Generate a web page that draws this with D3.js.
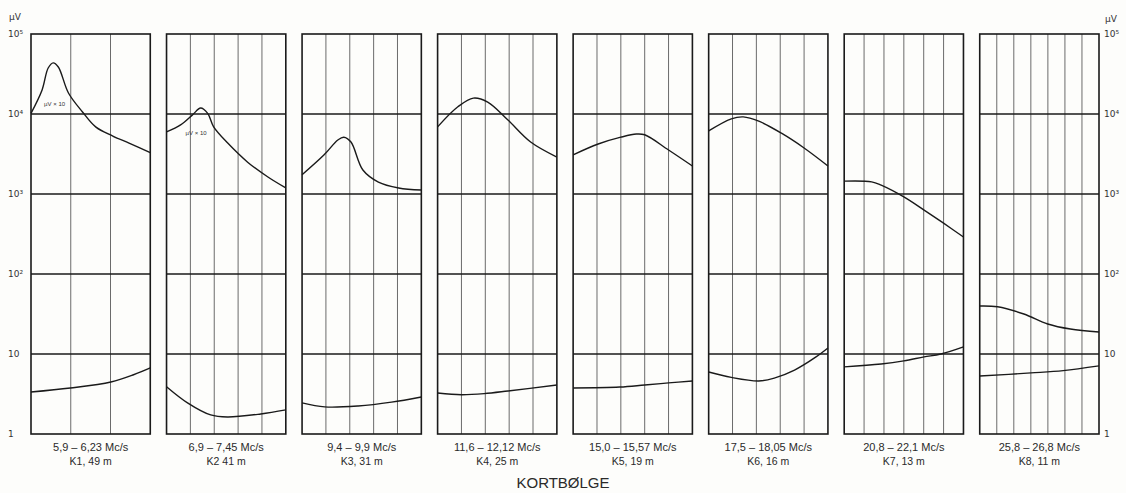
<!DOCTYPE html>
<html><head><meta charset="utf-8">
<script src="https://cdn.jsdelivr.net/npm/d3@7"></script>
<style>
body{margin:0;background:#fdfdfb;}
svg{display:block;}
</style></head>
<body>
<svg id="c" width="1126" height="493"></svg>
<script>
// ---- data ----
const bands = ["K1","K2","K3","K4","K5","K6","K7","K8"];
const freqLabels = ["5,9 – 6,23 Mc/s","6,9 – 7,45 Mc/s","9,4 – 9,9 Mc/s","11,6 – 12,12 Mc/s","15,0 – 15,57 Mc/s","17,5 – 18,05 Mc/s","20,8 – 22,1 Mc/s","25,8 – 26,8 Mc/s"];
const bandLabels = ["K1, 49 m","K2  41 m","K3, 31 m","K4, 25 m","K5, 19 m","K6, 16 m","K7, 13 m","K8, 11 m"];
const divisions = [3,5,5,5,5,5,6,7];
const yTicks = [1,10,100,1000,10000,100000];
const yTickLabels = ["1","10","10²","10³","10⁴","10⁵"];
const gridValues = [10,100,1000,10000];

// upper curves: positions (fraction of band) and values (µV)
const upperPos = [
  [0,0.093,0.144,0.186,0.229,0.314,0.432,0.542,0.686,0.822,1],
  [0,0.118,0.218,0.286,0.345,0.395,0.513,0.68,0.85,1],
  [0,0.185,0.30,0.35,0.41,0.51,0.64,0.81,1],
  [0,0.17,0.30,0.42,0.59,0.78,1],
  [0,0.21,0.40,0.53,0.60,0.80,1],
  [0,0.19,0.29,0.42,0.61,0.80,1],
  [0,0.23,0.31,0.50,0.67,0.83,1],
  [0,0.15,0.37,0.57,0.76,1]
];
const upperVal = [
  [10200,20000,37600,43600,38700,18300,10600,6900,5300,4330,3300],
  [5960,7300,9750,11900,10200,6900,4330,2500,1630,1190],
  [1740,3090,4730,5130,4470,1995,1410,1190,1120],
  [6900,12300,15800,14100,8400,4470,2900],
  [3090,4220,5130,5620,5500,3550,2240],
  [6150,8700,9200,8130,5750,3760,2240],
  [1450,1420,1290,920,630,435,290],
  [39.8,38.9,31.6,23.7,20.5,18.8]
];
const lowerPos = [
  [0,0.33,0.67,0.86,1],
  [0,0.176,0.37,0.51,0.79,1],
  [0,0.19,0.47,0.75,1],
  [0,0.2,0.39,0.59,1],
  [0,0.39,0.6,0.8,1],
  [0,0.19,0.42,0.55,0.72,0.9,1],
  [0,0.31,0.50,0.67,0.81,1],
  [0,0.43,0.7,1]
];
const lowerVal = [
  [3.35,3.76,4.47,5.5,6.7],
  [3.9,2.45,1.73,1.63,1.78,2.0],
  [2.45,2.18,2.24,2.5,2.9],
  [3.25,3.1,3.2,3.45,4.1],
  [3.76,3.86,4.1,4.35,4.6],
  [5.96,5.1,4.6,5.0,6.3,9.2,11.9],
  [6.9,7.5,8.2,9.2,10,12.3],
  [5.3,5.8,6.2,7.1]
];
const scaleNotes = ["µV × 10","µV × 10"];
const notePos = [0.11, 0.16];
const noteVal = [13300, 5770];
const title = "KORTBØLGE";

// ---- drawing ----
const svg = d3.select("#c");
const y = d3.scaleLog().domain([1,100000]).range([434,34]);
const band = d3.scaleBand().domain(bands).range([31,1099]).paddingInner(0.12).paddingOuter(0);
const ink = "#1a1a1a";

bands.forEach((b,i)=>{
  const x0 = band(b), w = band.bandwidth();
  const x = d3.scaleLinear().domain([0,1]).range([x0, x0+w]);
  const g = svg.append("g");
  // vertical grid
  const vt = d3.range(1, divisions[i]).map(k=>k/divisions[i]);
  g.selectAll(".v").data(vt).join("line")
    .attr("x1",d=>x(d)).attr("x2",d=>x(d)).attr("y1",y(100000)).attr("y2",y(1))
    .attr("stroke","#6b6b6b").attr("stroke-width",1);
  // horizontal grid
  g.selectAll(".h").data(gridValues).join("line")
    .attr("x1",x(0)).attr("x2",x(1)).attr("y1",d=>y(d)).attr("y2",d=>y(d))
    .attr("stroke",ink).attr("stroke-width",1.3);
  // frame
  g.append("rect").attr("x",x(0)).attr("y",y(100000)).attr("width",w).attr("height",y(1)-y(100000))
    .attr("fill","none").attr("stroke",ink).attr("stroke-width",1.6);
  const line = d3.line().x(d=>x(d[0])).y(d=>y(d[1])).curve(d3.curveCatmullRom.alpha(0.5));
  g.append("path").attr("d", line(d3.zip(upperPos[i], upperVal[i])))
    .attr("fill","none").attr("stroke",ink).attr("stroke-width",1.4);
  g.append("path").attr("d", line(d3.zip(lowerPos[i], lowerVal[i])))
    .attr("fill","none").attr("stroke",ink).attr("stroke-width",1.4);
  // labels
  g.append("text").attr("x",x(0.5)).attr("y",451).attr("text-anchor","middle")
    .attr("font-family","Liberation Sans, Arial, sans-serif").attr("font-size",11).attr("fill","#2a2a2a")
    .text(freqLabels[i]);
  g.append("text").attr("x",x(0.5)).attr("y",465).attr("text-anchor","middle")
    .attr("font-family","Liberation Sans, Arial, sans-serif").attr("font-size",10.5).attr("fill","#2a2a2a")
    .text(bandLabels[i]);
  if (i < scaleNotes.length) {
    g.append("text").attr("x",x(notePos[i])).attr("y",y(noteVal[i])).attr("dy","0.35em")
      .attr("font-family","Liberation Sans, Arial, sans-serif")
      .attr("font-size",6).attr("fill","#333").text(scaleNotes[i]);
  }
});

// axes (labels only)
const fmt = d => yTickLabels[yTicks.indexOf(d)];
const left = svg.append("g").attr("transform","translate(29,0)")
  .call(d3.axisLeft(y).tickValues(yTicks).tickFormat(fmt).tickSize(0).tickPadding(0));
const right = svg.append("g").attr("transform","translate(1104,0)")
  .call(d3.axisRight(y).tickValues(yTicks).tickFormat(fmt).tickSize(0).tickPadding(0));
[left,right].forEach(a=>{
  a.select(".domain").remove();
  a.selectAll("text").attr("font-family","DejaVu Sans, sans-serif").attr("font-size",9).attr("fill","#333");
});
left.selectAll("text").attr("text-anchor","start").attr("x",-21);
svg.append("text").attr("x",9).attr("y",20).attr("font-family","DejaVu Sans, sans-serif").attr("font-size",9).attr("fill","#333").text("µV");
svg.append("text").attr("x",1105).attr("y",22).attr("font-family","DejaVu Sans, sans-serif").attr("font-size",9).attr("fill","#333").text("µV");

svg.append("text").attr("x",563).attr("y",488).attr("text-anchor","middle")
  .attr("font-family","Liberation Sans, Arial, sans-serif").attr("font-size",15).attr("fill","#2a2a2a").text(title);
</script>
</body></html>
